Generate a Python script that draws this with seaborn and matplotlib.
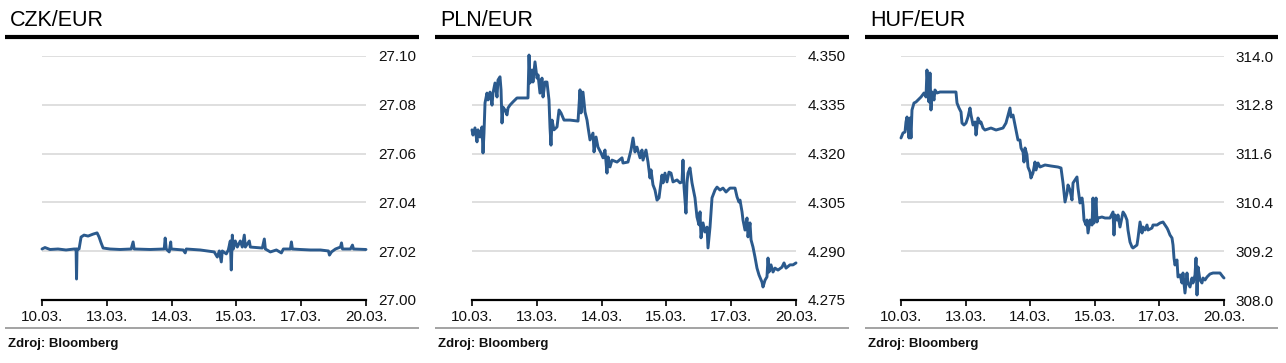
import matplotlib
matplotlib.use("Agg")
import matplotlib.pyplot as plt
from matplotlib.lines import Line2D
from matplotlib.ticker import FormatStrFormatter
import seaborn as sns
import pandas as pd

# ---------------- data ----------------
day_labels = ["10.03.", "13.03.", "14.03.", "15.03.", "17.03.", "20.03."]
titles = ["CZK/EUR", "PLN/EUR", "HUF/EUR"]
source = "Zdroj: Bloomberg"

czk_ticks = [27.00, 27.02, 27.04, 27.06, 27.08, 27.10]
pln_ticks = [4.275, 4.290, 4.305, 4.320, 4.335, 4.350]
huf_ticks = [308.0, 309.2, 310.4, 311.6, 312.8, 314.0]

czk_t = [0.000, 0.046, 0.124, 0.247, 0.371, 0.495, 0.526, 0.533, 0.541, 0.572,
         0.603, 0.649, 0.711, 0.788, 0.850, 0.881, 0.912, 0.943, 1.051, 1.206,
         1.376, 1.406, 1.422, 1.669, 1.886, 1.901, 1.917, 1.963, 1.986, 1.994,
         2.179, 2.210, 2.226, 2.442, 2.658, 2.705, 2.736, 2.767, 2.782, 2.844,
         2.875, 2.906, 2.921, 2.937, 2.952, 2.983, 3.014, 3.060, 3.091, 3.122,
         3.138, 3.199, 3.215, 3.400, 3.431, 3.447, 3.524, 3.617, 3.694, 3.725,
         3.833, 3.849, 3.864, 3.988, 4.142, 4.297, 4.420, 4.436, 4.467, 4.529,
         4.606, 4.622, 4.637, 4.760, 4.791, 4.807, 5.000]
czk_v = [27.0209, 27.0215, 27.0207, 27.0209, 27.0205, 27.0209, 27.0209, 27.0086, 27.0209, 27.0209,
         27.0258, 27.0266, 27.0262, 27.0270, 27.0275, 27.0258, 27.0234, 27.0213, 27.0209, 27.0207,
         27.0209, 27.0238, 27.0209, 27.0207, 27.0209, 27.0254, 27.0209, 27.0197, 27.0238, 27.0209,
         27.0205, 27.0193, 27.0209, 27.0205, 27.0197, 27.0176, 27.0201, 27.0156, 27.0201, 27.0189,
         27.0205, 27.0242, 27.0123, 27.0266, 27.0209, 27.0242, 27.0217, 27.0242, 27.0217, 27.0266,
         27.0217, 27.0242, 27.0217, 27.0213, 27.0250, 27.0209, 27.0197, 27.0205, 27.0193, 27.0209,
         27.0209, 27.0238, 27.0209, 27.0207, 27.0205, 27.0205, 27.0201, 27.0184, 27.0197, 27.0209,
         27.0217, 27.0234, 27.0209, 27.0209, 27.0225, 27.0209, 27.0207]

pln_t = [0.000, 0.015, 0.046, 0.077, 0.093, 0.123, 0.154, 0.170, 0.185, 0.201,
         0.231, 0.247, 0.278, 0.309, 0.324, 0.355, 0.386, 0.401, 0.432, 0.448,
         0.463, 0.478, 0.509, 0.540, 0.556, 0.586, 0.633, 0.694, 0.787, 0.864,
         0.880, 0.895, 0.926, 0.941, 0.972, 1.003, 1.019, 1.049, 1.080, 1.096,
         1.127, 1.157, 1.188, 1.204, 1.219, 1.235, 1.265, 1.312, 1.343, 1.373,
         1.420, 1.512, 1.636, 1.667, 1.682, 1.713, 1.744, 1.775, 1.790, 1.821,
         1.867, 1.883, 1.914, 1.944, 1.991, 2.022, 2.052, 2.083, 2.099, 2.130,
         2.160, 2.238, 2.315, 2.330, 2.407, 2.454, 2.485, 2.515, 2.546, 2.593,
         2.623, 2.639, 2.685, 2.716, 2.747, 2.762, 2.793, 2.824, 2.855, 2.886,
         2.901, 2.932, 2.948, 2.978, 3.009, 3.040, 3.071, 3.102, 3.164, 3.210,
         3.241, 3.256, 3.272, 3.302, 3.318, 3.333, 3.364, 3.395, 3.441, 3.472,
         3.503, 3.519, 3.534, 3.565, 3.596, 3.627, 3.642, 3.673, 3.704, 3.750,
         3.781, 3.827, 3.873, 3.920, 3.981, 4.059, 4.090, 4.120, 4.136, 4.167,
         4.182, 4.213, 4.244, 4.259, 4.290, 4.306, 4.336, 4.367, 4.398, 4.429,
         4.475, 4.491, 4.522, 4.552, 4.568, 4.583, 4.614, 4.645, 4.676, 4.722,
         4.784, 4.815, 4.846, 4.907, 4.954, 5.000]
pln_v = [4.3273, 4.3257, 4.3279, 4.3236, 4.3273, 4.3251, 4.3282, 4.3202, 4.3263, 4.3356,
         4.3386, 4.3365, 4.3389, 4.3349, 4.3386, 4.3417, 4.3374, 4.3426, 4.3436, 4.3396,
         4.3294, 4.3343, 4.3334, 4.3319, 4.3340, 4.3349, 4.3359, 4.3371, 4.3371, 4.3371,
         4.3503, 4.3417, 4.3457, 4.3420, 4.3482, 4.3432, 4.3442, 4.3386, 4.3432, 4.3374,
         4.3420, 4.3420, 4.3365, 4.3279, 4.3226, 4.3303, 4.3273, 4.3282, 4.3334, 4.3325,
         4.3303, 4.3303, 4.3300, 4.3396, 4.3325, 4.3389, 4.3328, 4.3303, 4.3282, 4.3242,
         4.3263, 4.3205, 4.3251, 4.3220, 4.3202, 4.3187, 4.3211, 4.3140, 4.3190, 4.3159,
         4.3180, 4.3174, 4.3187, 4.3171, 4.3174, 4.3211, 4.3248, 4.3205, 4.3220, 4.3187,
         4.3211, 4.3180, 4.3211, 4.3174, 4.3125, 4.3150, 4.3104, 4.3088, 4.3057, 4.3064,
         4.3088, 4.3134, 4.3110, 4.3140, 4.3113, 4.3143, 4.3140, 4.3113, 4.3119, 4.3110,
         4.3113, 4.3180, 4.3097, 4.3017, 4.3110, 4.3140, 4.3156, 4.3110, 4.3064, 4.3005,
         4.2981, 4.3021, 4.2941, 4.2987, 4.2959, 4.2974, 4.2910, 4.2974, 4.3064, 4.3088,
         4.3097, 4.3088, 4.3094, 4.3082, 4.3094, 4.3094, 4.3067, 4.3051, 4.3057, 4.3021,
         4.2996, 4.2965, 4.3002, 4.2944, 4.2987, 4.2935, 4.2913, 4.2882, 4.2848, 4.2827,
         4.2805, 4.2790, 4.2811, 4.2821, 4.2879, 4.2836, 4.2858, 4.2836, 4.2848, 4.2842,
         4.2851, 4.2864, 4.2848, 4.2858, 4.2858, 4.2864]

huf_t = [0.000, 0.031, 0.062, 0.077, 0.093, 0.124, 0.139, 0.155, 0.170, 0.201,
         0.232, 0.279, 0.310, 0.356, 0.387, 0.402, 0.433, 0.449, 0.464, 0.480,
         0.511, 0.526, 0.557, 0.604, 0.728, 0.851, 0.867, 0.898, 0.929, 0.944,
         0.975, 1.006, 1.037, 1.068, 1.084, 1.115, 1.146, 1.161, 1.192, 1.223,
         1.238, 1.269, 1.300, 1.393, 1.471, 1.579, 1.625, 1.687, 1.703, 1.734,
         1.765, 1.780, 1.811, 1.842, 1.858, 1.889, 1.904, 1.920, 1.950, 1.966,
         1.997, 2.012, 2.043, 2.074, 2.090, 2.121, 2.152, 2.229, 2.322, 2.430,
         2.477, 2.508, 2.539, 2.570, 2.585, 2.616, 2.647, 2.663, 2.693, 2.724,
         2.740, 2.771, 2.802, 2.817, 2.833, 2.864, 2.879, 2.895, 2.926, 2.957,
         2.972, 2.988, 3.019, 3.034, 3.050, 3.111, 3.158, 3.235, 3.282, 3.297,
         3.313, 3.344, 3.359, 3.390, 3.421, 3.437, 3.467, 3.498, 3.514, 3.545,
         3.576, 3.591, 3.653, 3.669, 3.700, 3.731, 3.746, 3.777, 3.808, 3.824,
         3.885, 3.901, 3.963, 4.009, 4.056, 4.087, 4.118, 4.133, 4.164, 4.195,
         4.211, 4.226, 4.241, 4.272, 4.288, 4.319, 4.350, 4.365, 4.396, 4.427,
         4.443, 4.474, 4.505, 4.520, 4.551, 4.567, 4.582, 4.598, 4.628, 4.659,
         4.675, 4.706, 4.737, 4.783, 4.830, 4.938, 4.985, 5.000]
huf_v = [311.984, 312.107, 312.131, 312.377, 312.500, 311.984, 312.475, 311.984, 312.672, 312.844,
         312.869, 312.943, 312.992, 313.090, 312.992, 313.656, 312.869, 313.582, 312.672, 313.115,
         312.918, 313.164, 313.090, 313.115, 313.115, 313.115, 312.844, 312.721, 312.623, 312.352,
         312.303, 312.352, 312.500, 312.721, 312.549, 312.303, 312.377, 312.057, 312.475, 312.352,
         312.377, 312.229, 312.180, 312.229, 312.180, 312.229, 312.352, 312.721, 312.500, 312.549,
         312.303, 312.180, 311.934, 311.934, 311.738, 311.639, 311.393, 311.738, 311.566, 311.270,
         311.148, 311.000, 311.123, 311.393, 311.197, 311.369, 311.270, 311.320, 311.295, 311.270,
         311.246, 310.877, 310.410, 310.631, 310.828, 310.705, 310.459, 310.877, 310.951, 311.025,
         310.754, 310.385, 310.508, 310.336, 309.967, 309.844, 309.967, 309.648, 309.967, 309.844,
         310.508, 309.893, 310.508, 309.918, 310.016, 310.041, 310.016, 310.016, 310.164, 309.598,
         310.090, 309.967, 310.090, 309.795, 310.041, 310.164, 310.090, 309.967, 309.721, 309.426,
         309.303, 309.279, 309.352, 309.525, 309.918, 309.648, 309.795, 309.721, 309.844, 309.721,
         309.770, 309.844, 309.844, 309.893, 309.918, 309.844, 309.770, 309.721, 309.598, 309.525,
         309.352, 309.033, 308.861, 308.984, 308.566, 308.615, 308.418, 308.664, 308.172, 308.664,
         308.418, 308.320, 308.541, 308.418, 308.615, 309.033, 308.123, 308.811, 308.492, 308.418,
         308.541, 308.492, 308.566, 308.639, 308.664, 308.664, 308.566, 308.541]

# ---------------- style ----------------
sns.set_theme(style="white")
plt.rcParams["font.family"] = ["Liberation Sans", "DejaVu Sans"]

W, H = 1286, 363
fig = plt.figure(figsize=(W / 100, H / 100), dpi=100)

line_color = "#2b5a8d"
panels = [
    (czk_t, czk_v, czk_ticks, "%.2f"),
    (pln_t, pln_v, pln_ticks, "%.3f"),
    (huf_t, huf_v, huf_ticks, "%.1f"),
]
ax_left_px = [42, 472, 901]
ax_width_px = [324, 324, 323]
title_x_px = [10, 440, 870]
rule_px = [(5, 419), (435, 849), (865, 1278)]
src_x_px = [8, 438, 868]

ax_bottom = 1 - 300 / H
ax_top = 1 - 56 / H

for i, (t, v, ticks, fmt) in enumerate(panels):
    ax = fig.add_axes([ax_left_px[i] / W, ax_bottom, ax_width_px[i] / W, ax_top - ax_bottom])
    df = pd.DataFrame({"t": t, "v": v})
    sns.lineplot(data=df, x="t", y="v", ax=ax, color=line_color, lw=2.1,
                 estimator=None, sort=False, clip_on=False)
    ax.set_xlim(0, 5)
    ax.set_ylim(ticks[0], ticks[-1])
    ax.set_xticks(range(len(day_labels)))
    ax.set_xticklabels(day_labels)
    ax.set_yticks(ticks)
    ax.yaxis.set_major_formatter(FormatStrFormatter(fmt))
    ax.set_xlabel("")
    ax.set_ylabel("")
    ax.grid(axis="y", color="#dcdcdc", lw=1.3)
    ax.grid(axis="x", visible=False)
    ax.set_axisbelow(True)
    for s in ["top", "left", "right"]:
        ax.spines[s].set_visible(False)
    ax.spines["bottom"].set_color("black")
    ax.spines["bottom"].set_linewidth(1.6)
    ax.spines["bottom"].set_zorder(5)
    ax.tick_params(axis="y", left=False, right=False, length=0, labelleft=False,
                   labelright=True, labelsize=11, pad=8.5, colors="#111111")
    ax.tick_params(axis="x", bottom=True, direction="out", length=4, width=1.2,
                   color="black", labelsize=11, pad=3, labelcolor="#111111")
    ax.set_facecolor("none")

    # title
    fig.text(title_x_px[i] / W, 1 - 26 / H, titles[i], fontsize=15.5,
             ha="left", va="baseline", color="black")
    # thick black rule
    x0, x1 = rule_px[i]
    fig.add_artist(Line2D([x0 / W, x1 / W], [1 - 37 / H, 1 - 37 / H],
                          transform=fig.transFigure, color="black", lw=3.0,
                          solid_capstyle="butt"))
    # gray bottom rule
    fig.add_artist(Line2D([x0 / W, x1 / W], [1 - 328 / H, 1 - 328 / H],
                          transform=fig.transFigure, color="#8a8a8a", lw=1.1,
                          solid_capstyle="butt"))
    # source
    fig.text(src_x_px[i] / W, 1 - 346.5 / H, source, fontsize=9.5, fontweight="bold",
             ha="left", va="baseline", color="#111111")

fig.savefig("out.png", dpi=100, facecolor="white")
